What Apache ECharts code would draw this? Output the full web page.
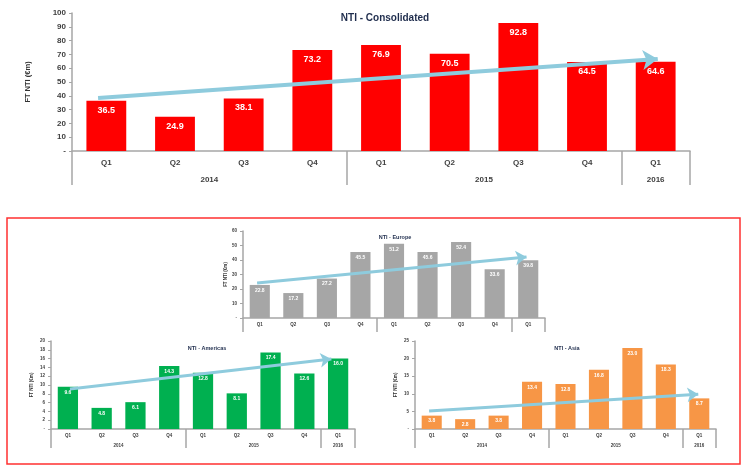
<!DOCTYPE html>
<html><head><meta charset="utf-8">
<script src="https://cdn.jsdelivr.net/npm/echarts@6/dist/echarts.min.js"></script>
<style>html,body{margin:0;padding:0;background:#fff}#c{width:741px;height:466px}</style>
</head><body><div id="c"></div>
<script>
const quarters = ['Q1','Q2','Q3','Q4','Q1','Q2','Q3','Q4','Q1'];
const years = ['2014','2015','2016'];
const yearCenters = [2, 6, 8.5];
const yearBounds = [0, 4, 8, 9];

const consolidated = [36.5, 24.9, 38.1, 73.2, 76.9, 70.5, 92.8, 64.5, 64.6];
const europe = [22.8, 17.2, 27.2, 45.5, 51.2, 45.6, 52.4, 33.6, 39.8];
const americas = [9.6, 4.8, 6.1, 14.3, 12.8, 8.1, 17.4, 12.6, 16.0];
const asia = [3.8, 2.8, 3.8, 13.4, 12.8, 16.8, 23.0, 18.3, 8.7];

// trend arrows: [start, end] as [quarter position, value]
const trendConsolidated = [[0.38, 38.4], [8.53, 66.7]];
const trendEurope = [[0.42, 24.1], [8.45, 42.0]];
const trendAmericas = [[0.56, 9.1], [8.3, 15.9]];
const trendAsia = [[0.42, 5.1], [8.47, 9.9]];

const titles = ['NTI - Consolidated', 'NTI - Europe', 'NTI - Americas', 'NTI - Asia'];
const yName = 'FT NTI (€m)';

const FONT = 'Liberation Sans, Arial, sans-serif';
const AX = '#a6a6a6';
const ARROW = '#8ecbdd';

const panels = [
  {data: consolidated, trend: trendConsolidated, color: '#ff0000', max: 100, interval: 10,
   grid: {left: 72, top: 13, width: 618, height: 138},
   fs: 8, lblFs: 9, qTick: 16, yTick: 34, qMargin: 8, yMargin: 25, nameGap: 40, nameFs: 7.5,
   lw: 4, arrow: 15, yearLabels: true, title: {x: 380, y: 8, fs: 10}, barW: '58%'},
  {data: europe, trend: trendEurope, color: '#a6a6a6', max: 60, interval: 10,
   grid: {left: 243, top: 231, width: 302, height: 87},
   fs: 4.5, lblFs: 5, qTick: 10, yTick: 14, qMargin: 4, yMargin: 14, nameGap: 15, nameFs: 4.5,
   lw: 3, arrow: 11, yearLabels: false, title: {x: 390, y: 229, fs: 5.5}, barW: '60%'},
  {data: americas, trend: trendAmericas, color: '#00b050', max: 20, interval: 2,
   grid: {left: 51, top: 341, width: 304, height: 88},
   fs: 4.5, lblFs: 5, qTick: 10, yTick: 19, qMargin: 4, yMargin: 14, nameGap: 17, nameFs: 4.5,
   lw: 3, arrow: 11, yearLabels: true, title: {x: 202, y: 340, fs: 5.5}, barW: '60%'},
  {data: asia, trend: trendAsia, color: '#f79646', max: 25, interval: 5,
   grid: {left: 415, top: 341, width: 301, height: 88},
   fs: 4.5, lblFs: 5, qTick: 10, yTick: 19, qMargin: 4, yMargin: 14, nameGap: 17, nameFs: 4.5,
   lw: 3, arrow: 11, yearLabels: true, title: {x: 562, y: 340, fs: 5.5}, barW: '60%'}
];

const option = {
  animation: false,
  textStyle: {fontFamily: FONT},
  title: [], grid: [], xAxis: [], yAxis: [], series: [],
  graphic: [{type: 'rect', z: -1, shape: {x: 7, y: 218, width: 733, height: 246},
    style: {fill: 'none', stroke: '#ff3030', lineWidth: 1.5}}]
};

panels.forEach((p, i) => {
  option.title.push({text: titles[i], left: p.title.x, top: p.title.y, textAlign: 'center',
    textStyle: {fontSize: p.title.fs, fontWeight: 'bold', color: '#1f2d4d', fontFamily: FONT}});
  option.grid.push(Object.assign({containLabel: false}, p.grid));
  option.xAxis.push({gridIndex: i, type: 'category', data: quarters, position: 'bottom',
    axisLine: {lineStyle: {color: AX, width: 1.5}},
    axisTick: {length: p.qTick, lineStyle: {color: AX, width: 1.5}},
    axisLabel: {fontSize: p.fs, color: '#404040', fontWeight: 'bold', margin: p.qMargin, fontFamily: FONT},
    splitLine: {show: false}});
  option.xAxis.push({gridIndex: i, type: 'value', min: 0, max: 9, position: 'bottom',
    axisLine: {show: false}, splitLine: {show: false},
    axisTick: {show: true, customValues: yearBounds, length: p.yTick, lineStyle: {color: AX, width: 1.5}},
    axisLabel: {show: p.yearLabels, customValues: yearCenters, fontSize: p.fs, color: '#404040', fontWeight: 'bold',
      margin: p.yMargin, fontFamily: FONT,
      formatter: v => years[yearCenters.indexOf(v)] || ''}});
  option.yAxis.push({gridIndex: i, type: 'value', min: 0, max: p.max, interval: p.interval,
    axisLine: {show: true, lineStyle: {color: AX, width: 1.5}},
    axisTick: {show: true, length: 3, lineStyle: {color: AX}},
    splitLine: {show: false},
    axisLabel: {fontSize: p.fs, color: '#404040', fontWeight: 'bold', margin: 6, fontFamily: FONT,
      formatter: v => v === 0 ? '-' : String(v)},
    name: yName, nameLocation: 'middle', nameRotate: 90, nameGap: p.nameGap,
    nameTextStyle: {fontSize: p.nameFs, fontWeight: 'bold', color: '#333', fontFamily: FONT}});
  option.series.push({type: 'bar', xAxisIndex: 2 * i, yAxisIndex: i, data: p.data, barWidth: p.barW,
    itemStyle: {color: p.color},
    label: {show: true, position: 'insideTop', distance: i === 0 ? 5 : 3, color: '#fff', fontWeight: 'bold',
      fontSize: p.lblFs, fontFamily: FONT, formatter: d => d.value.toFixed(1)}});
  option.series.push({type: 'line', xAxisIndex: 2 * i + 1, yAxisIndex: i, data: [], silent: true,
    markLine: {silent: true, animation: false, symbol: ['none', 'arrow'], symbolSize: p.arrow,
      label: {show: false}, emphasis: {disabled: true},
      lineStyle: {color: ARROW, width: p.lw, type: 'solid'},
      data: [[{coord: p.trend[0]}, {coord: p.trend[1]}]]}});
});

const chart = echarts.init(document.getElementById('c'), null, {renderer: 'canvas'});
chart.setOption(option);
</script>
</body></html>
